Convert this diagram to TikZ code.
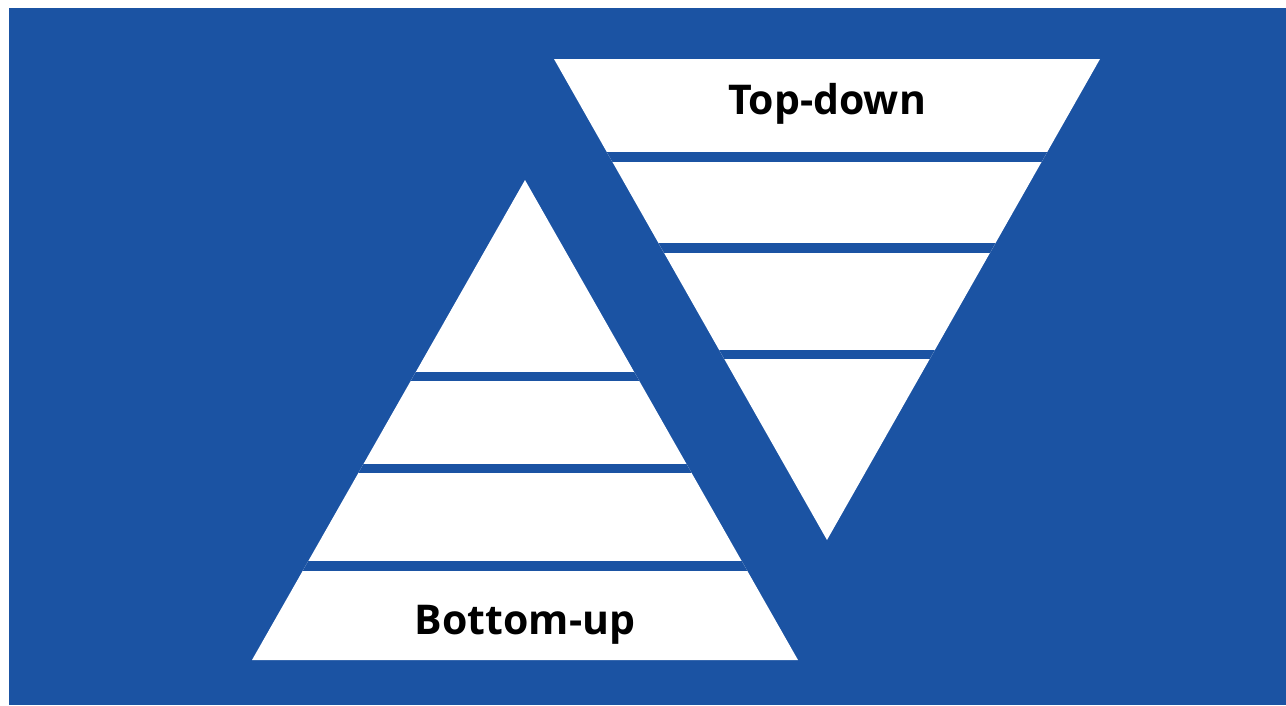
\documentclass[tikz,border=0pt]{standalone}
\usepackage{fontspec}
\setmainfont{Open Sans}
\definecolor{bgblue}{HTML}{1B53A3}
\begin{document}
\begin{tikzpicture}[x=1pt,y=-1pt,
  lbl/.style={font=\fontsize{41}{43}\selectfont\bfseries, text=black, inner sep=0pt, anchor=base}]
\useasboundingbox (0,0) rectangle (1286,705);
\fill[white] (0,0) rectangle (1286,705);
\fill[bgblue] (9,8) rectangle (1286,705);
% pyramid (bottom-up)
\begin{scope}
  \clip (525,180) -- (798,660) -- (252,660) -- cycle;
  \fill[white] (200,150) rectangle (850,700);
  \foreach \a/\b in {372/381, 464/473, 561/571}
    \fill[bgblue] (200,\a) rectangle (850,\b);
\end{scope}
% inverted pyramid (top-down)
\begin{scope}
  \clip (554,59) -- (1100,59) -- (827,540) -- cycle;
  \fill[white] (540,40) rectangle (1120,560);
  \foreach \a/\b in {152/162, 243/253, 350/359}
    \fill[bgblue] (540,\a) rectangle (1120,\b);
\end{scope}
\node[lbl] (td) at (827,114) {Top-down};
\node[lbl] (bu) at (525,634) {Bottom-up};
\end{tikzpicture}
\end{document}
